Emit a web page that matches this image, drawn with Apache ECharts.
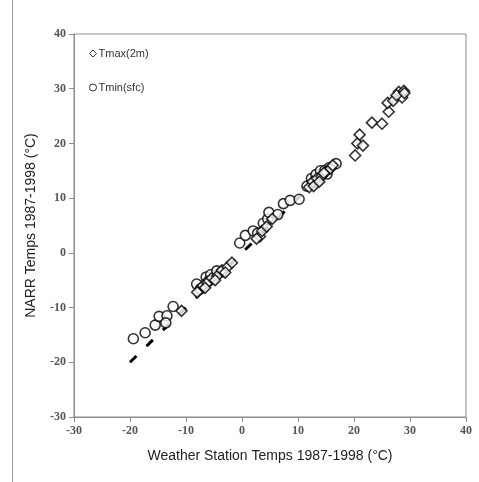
<!DOCTYPE html>
<html>
<head>
<meta charset="utf-8">
<script src="https://cdn.jsdelivr.net/npm/echarts@6/dist/echarts.min.js"></script>
<style>
html, body { margin: 0; padding: 0; background: #fff; }
#chart { width: 479px; height: 482px; }
</style>
</head>
<body>
<div id="chart"></div>
<script>
// 数据：气象站温度 vs NARR 温度
var tmaxPoints = [
    [-10.8, -10.6], [-8.0, -7.2], [-7.0, -6.0], [-6.2, -5.5], [-5.4, -4.6], [-4.4, -4.2],
    [-3.6, -3.2], [-2.6, -2.6], [-1.8, -1.8], [-6.6, -6.4], [-4.8, -5.0], [-3.0, -3.6],
    [3.2, 3.0], [3.6, 4.0], [4.4, 4.8], [5.4, 6.2], [2.6, 2.6],
    [12.0, 12.0], [12.6, 13.0], [13.4, 13.6], [14.2, 14.0], [15.0, 14.8], [15.8, 15.4],
    [12.8, 12.2], [13.8, 13.0], [14.6, 14.6], [16.2, 16.0],
    [20.2, 17.8], [20.6, 20.0], [21.0, 21.6], [21.6, 19.6], [23.2, 23.8], [25.0, 23.6],
    [26.2, 25.8], [26.0, 27.4], [27.0, 27.8], [28.0, 29.4], [28.6, 28.4], [28.9, 29.6],
    [27.6, 28.8], [29.0, 29.2]
];
var tminPoints = [
    [-19.4, -15.7], [-17.3, -14.6], [-15.5, -13.2], [-14.8, -11.6], [-13.4, -11.5], [-13.6, -12.8],
    [-12.3, -9.8], [-8.1, -5.7], [-7.4, -6.6], [-6.4, -4.4], [-5.6, -4.0], [-5.0, -4.8],
    [-4.5, -3.3], [-3.6, -3.5], [-6.0, -5.2], [-0.4, 1.8], [0.6, 3.2], [2.0, 4.0], [2.8, 3.6],
    [3.8, 5.4], [4.6, 6.2], [4.8, 7.4], [6.4, 7.0], [7.4, 9.0], [8.6, 9.6], [10.2, 9.8],
    [11.6, 12.2], [12.4, 13.6], [13.2, 14.3], [14.0, 15.0], [14.8, 15.1], [15.6, 15.6],
    [16.8, 16.3], [12.8, 12.8], [13.6, 13.2], [15.2, 14.4]
];
// 1:1 虚线
var oneToOne = [[-20, -20], [18, 18]];
var axisMin = -30, axisMax = 40, axisStep = 10;

var tickFont = {
    fontFamily: 'Liberation Serif',
    fontWeight: 'bold',
    fontSize: 12,
    color: '#555'
};

var option = {
    backgroundColor: '#fff',
    animation: false,
    grid: {
        left: 74,
        right: 13,
        top: 34,
        bottom: 65,
        show: true,
        borderColor: '#8c8c8c',
        borderWidth: 1
    },
    legend: {
        orient: 'vertical',
        left: 84,
        top: 43,
        itemGap: 23,
        itemWidth: 7,
        itemHeight: 7,
        itemStyle: { borderWidth: 1 },
        textStyle: {
            fontFamily: 'Liberation Sans',
            fontSize: 11,
            color: '#333',
            padding: [0, 0, 0, -3]
        },
        data: ['Tmax(2m)', 'Tmin(sfc)']
    },
    xAxis: {
        type: 'value',
        min: axisMin,
        max: axisMax,
        interval: axisStep,
        name: 'Weather Station Temps 1987-1998 (°C)',
        nameLocation: 'middle',
        nameGap: 32,
        nameTextStyle: {
            fontFamily: 'Liberation Sans',
            fontSize: 14,
            color: '#222'
        },
        axisLine: { onZero: false, lineStyle: { color: '#8c8c8c' } },
        axisTick: { show: true, length: 5, lineStyle: { color: '#8c8c8c' } },
        axisLabel: tickFont,
        splitLine: { show: false }
    },
    yAxis: {
        type: 'value',
        min: axisMin,
        max: axisMax,
        interval: axisStep,
        name: 'NARR Temps 1987-1998 (°C)',
        nameLocation: 'middle',
        nameGap: 36,
        nameTextStyle: {
            fontFamily: 'Liberation Sans',
            fontSize: 14,
            color: '#222'
        },
        axisLine: { show: true, onZero: false, lineStyle: { color: '#8c8c8c' } },
        axisTick: { show: true, length: 5, lineStyle: { color: '#8c8c8c' } },
        axisLabel: tickFont,
        splitLine: { show: false }
    },
    graphic: [{
        type: 'line',
        shape: { x1: 12.5, y1: 0, x2: 12.5, y2: 482 },
        style: { stroke: '#9a9a9a', lineWidth: 1 }
    }],
    series: [
        {
            name: 'dash',
            type: 'line',
            data: oneToOne,
            symbol: 'none',
            silent: true,
            lineStyle: { color: '#000', width: 3, type: [9, 14] },
            z: 1
        },
        {
            name: 'Tmax(2m)',
            type: 'scatter',
            data: tmaxPoints,
            symbol: 'diamond',
            symbolSize: 11,
            itemStyle: { color: '#fff', borderColor: '#000', borderWidth: 1.6 },
            z: 3
        },
        {
            name: 'Tmin(sfc)',
            type: 'scatter',
            data: tminPoints,
            symbol: 'circle',
            symbolSize: 10,
            itemStyle: { color: '#fff', borderColor: '#000', borderWidth: 1.6 },
            z: 2
        }
    ]
};

var myChart = echarts.init(document.getElementById('chart'));
myChart.setOption(option);
window.onresize = myChart.resize;
</script>
</body>
</html>
